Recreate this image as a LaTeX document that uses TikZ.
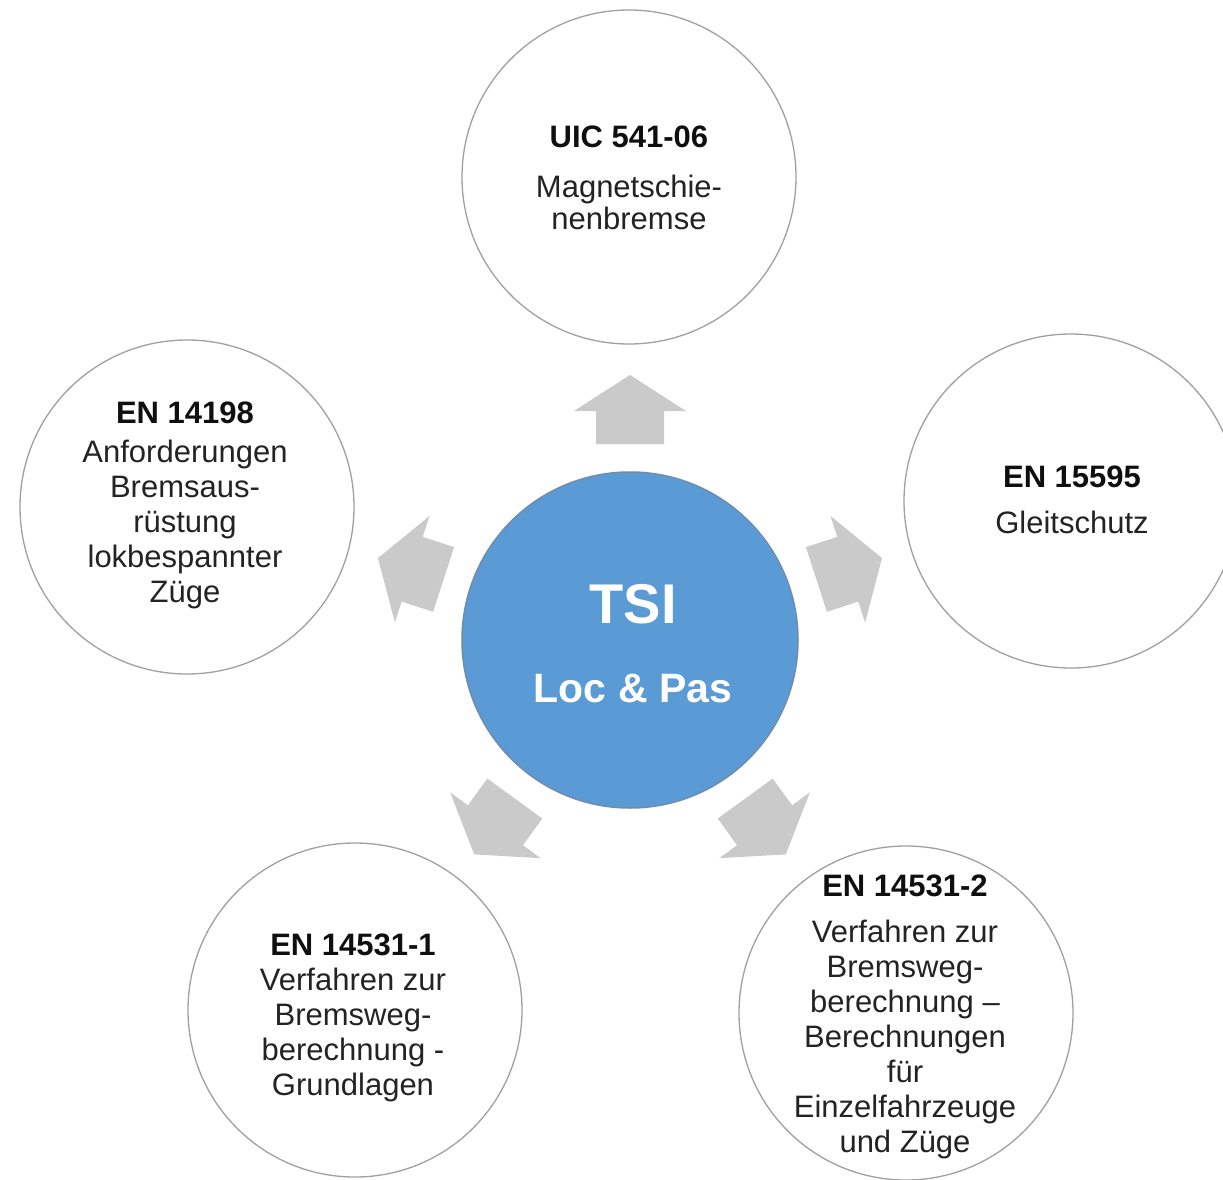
\documentclass[tikz,border=0pt]{standalone}
\usepackage{fontspec}
\setmainfont{Liberation Sans}
\definecolor{tsiblue}{RGB}{91,155,213}
\definecolor{tsiedge}{RGB}{110,140,175}
\definecolor{ringgray}{RGB}{160,160,160}
\definecolor{arrowgray}{RGB}{202,202,202}
\definecolor{headtxt}{RGB}{15,15,15}
\definecolor{bodytxt}{RGB}{35,35,35}
\newcommand{\headln}[1]{{\color{headtxt}\bfseries\fontsize{31}{35}\selectfont #1}}
\newcommand{\ringlines}[1]{\begin{tabular}[t]{@{}c@{}}#1\end{tabular}}
\begin{document}
\begin{tikzpicture}[x=1pt,y=-1pt,
  ring/.style={circle, draw=ringgray, line width=1.3pt, minimum size=334pt, inner sep=0pt},
  hub/.style={circle, fill=tsiblue, draw=tsiedge, line width=1.5pt, minimum size=336pt, inner sep=0pt},
  ringtext/.style={anchor=base, inner sep=0pt, text=bodytxt, font=\fontsize{31}{35}\selectfont},
  hubtext/.style={anchor=base, inner sep=0pt, text=white},
  blockarrow/.style={fill=arrowgray, draw=none}
]
\useasboundingbox (0,0) rectangle (1223,1180);
\clip (0,0) rectangle (1223,1180);
\fill[white] (0,0) rectangle (1223,1180);

% circles
\node[hub]  (tsi)   at (630,640) {};
\node[ring] (uic)   at (629,177) {};
\node[ring] (gleit) at (1071,501) {};
\node[ring] (anf)   at (187,507) {};
\node[ring] (bwa)   at (355,1010) {};
\node[ring] (bwb)   at (906,1013) {};

% block arrows from the hub towards the five circles
\foreach \ang in {90,18,162,-126,-54}
  \fill[blockarrow, shift={(tsi.center)}, rotate=\ang]
    (196,-34) -- (229,-34) -- (229,-56) -- (265,0) -- (229,56) -- (229,34) -- (196,34) -- cycle;

% hub text
\node[hubtext, font=\bfseries\fontsize{56}{60}\selectfont] (tsiA) at (633,623) {TSI};
\node[hubtext, font=\bfseries\fontsize{41}{45}\selectfont] (tsiB) at (633,702) {Loc \& Pas};

% ring texts
\node[ringtext] (uicT) at (629,147)
  {\ringlines{\headln{UIC 541-06}\\[15pt]
   Magnetschie-\\[-3pt] nenbremse}};
\node[ringtext] (gleitT) at (1072,487)
  {\ringlines{\headln{EN 15595}\\[11pt]
   Gleitschutz}};
\node[ringtext] (anfT) at (185,423)
  {\ringlines{\headln{EN 14198}\\[4pt]
   Anforderungen\\ Bremsaus-\\ rüstung\\ lokbespannter\\ Züge}};
\node[ringtext] (bwaT) at (353,955)
  {\ringlines{\headln{EN 14531-1}\\
   Verfahren zur\\ Bremsweg-\\ berechnung -\\ Grundlagen}};
\node[ringtext] (bwbT) at (905,896)
  {\ringlines{\headln{EN 14531-2}\\[11pt]
   Verfahren zur\\ Bremsweg-\\ berechnung –\\ Berechnungen\\ für\\ Einzelfahrzeuge\\ und Züge}};
\end{tikzpicture}
\end{document}
